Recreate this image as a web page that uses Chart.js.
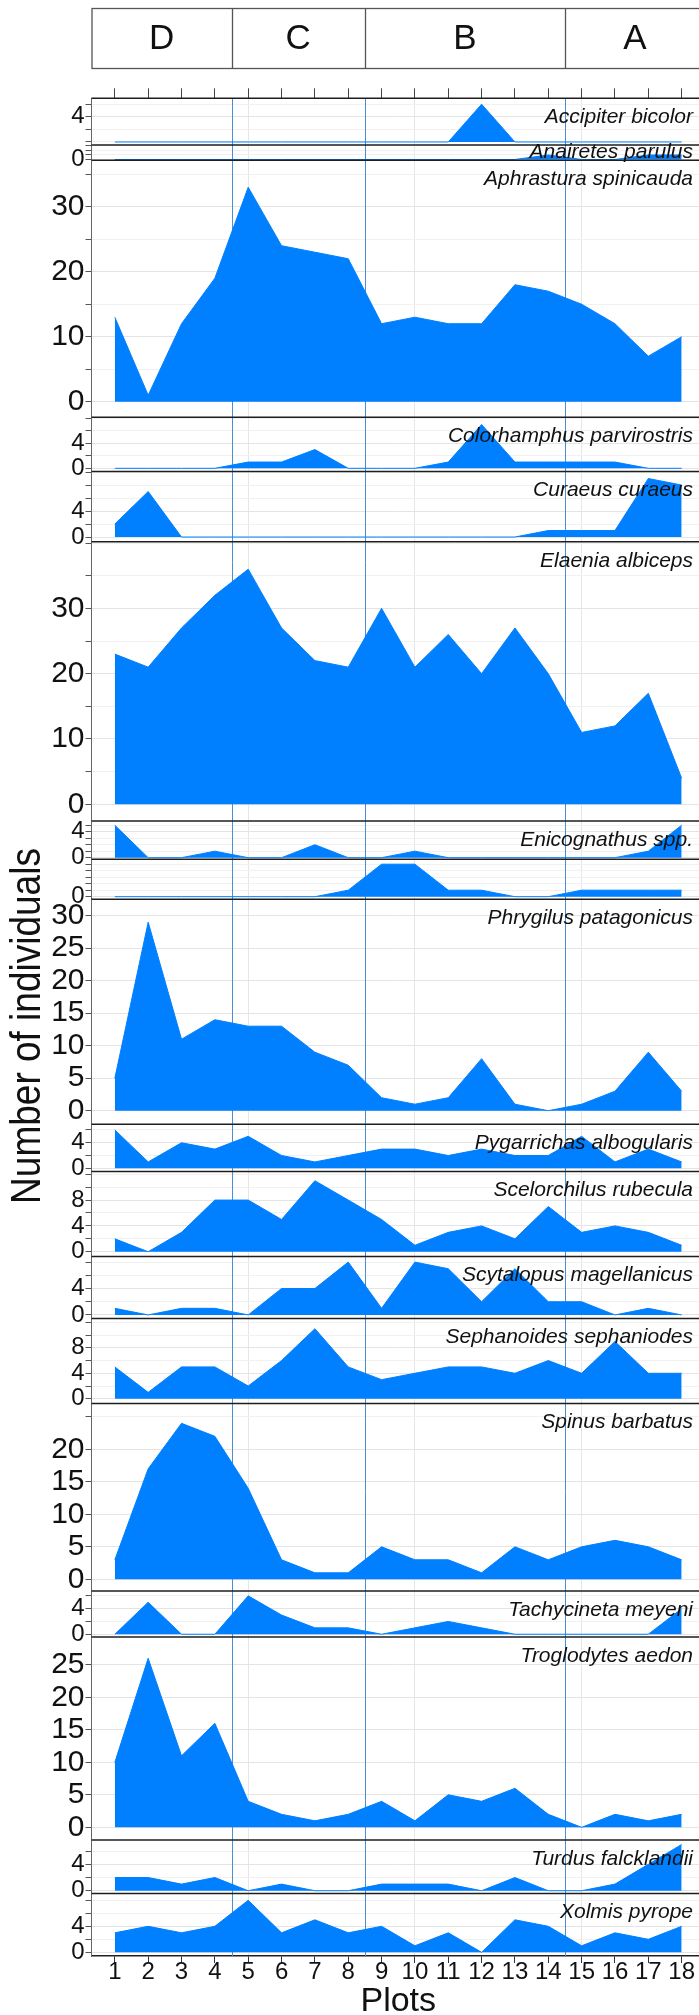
<!DOCTYPE html>
<html>
<head>
<meta charset="utf-8">
<title>Birds per plot</title>
<script src="https://cdn.jsdelivr.net/npm/chart.js@4.4.1/dist/chart.umd.min.js"></script>
<style>
  html, body { margin: 0; padding: 0; overflow: hidden; background: #fff; }
  #wrap { width: 712px; height: 2015px; }
</style>
</head>
<body>
<div id="wrap"><canvas id="birdChart" width="712" height="2015"></canvas></div>
<script>
const plots = [1, 2, 3, 4, 5, 6, 7, 8, 9, 10, 11, 12, 13, 14, 15, 16, 17, 18];
const zones = ['D', 'C', 'B', 'A'];
const zoneBreaks = [4.5, 8.5, 14.5];
const xGridBreaks = [5, 10, 15];

// one panel per species, top to bottom (the 8th panel has no name in the figure)
const species = [
  'Accipiter bicolor', 'Anairetes parulus', 'Aphrastura spinicauda',
  'Colorhamphus parvirostris', 'Curaeus curaeus', 'Elaenia albiceps',
  'Enicognathus spp.', '', 'Phrygilus patagonicus',
  'Pygarrichas albogularis', 'Scelorchilus rubecula', 'Scytalopus magellanicus',
  'Sephanoides sephaniodes', 'Spinus barbatus', 'Tachycineta meyeni',
  'Troglodytes aedon', 'Turdus falcklandii', 'Xolmis pyrope'
];

const accipiterBicolor       = [0, 0, 0, 0, 0, 0, 0, 0, 0, 0, 0, 6, 0, 0, 0, 0, 0, 0];
const anairetesParulus       = [0, 0, 0, 0, 0, 0, 0, 0, 0, 0, 0, 0, 0, 1, 0, 0, 1, 1];
const aphrasturaSpinicauda   = [13, 1, 12, 19, 33, 24, 23, 22, 12, 13, 12, 12, 18, 17, 15, 12, 7, 10];
const colorhamphusParvirostris = [0, 0, 0, 0, 1, 1, 3, 0, 0, 0, 1, 7, 1, 1, 1, 1, 0, 0];
const curaeusCuraeus         = [2, 7, 0, 0, 0, 0, 0, 0, 0, 0, 0, 0, 0, 1, 1, 1, 9, 8];
const elaeniaAlbiceps        = [23, 21, 27, 32, 36, 27, 22, 21, 30, 21, 26, 20, 27, 20, 11, 12, 17, 4];
const enicognathusSpp        = [5, 0, 0, 1, 0, 0, 2, 0, 0, 1, 0, 0, 0, 0, 0, 0, 1, 5];
const unnamedSpecies         = [0, 0, 0, 0, 0, 0, 0, 1, 5, 5, 1, 1, 0, 0, 1, 1, 1, 1];
const phrygilusPatagonicus   = [5, 29, 11, 14, 13, 13, 9, 7, 2, 1, 2, 8, 1, 0, 1, 3, 9, 3];
const pygarrichasAlbogularis = [6, 1, 4, 3, 5, 2, 1, 2, 3, 3, 2, 3, 2, 2, 5, 1, 3, 1];
const scelorchilusRubecula   = [2, 0, 3, 8, 8, 5, 11, 8, 5, 1, 3, 4, 2, 7, 3, 4, 3, 1];
const scytalopusMagellanicus = [1, 0, 1, 1, 0, 4, 4, 8, 1, 8, 7, 2, 7, 2, 2, 0, 1, 0];
const sephanoidesSephaniodes = [5, 1, 5, 5, 2, 6, 11, 5, 3, 4, 5, 5, 4, 6, 4, 9, 4, 4];
const spinusBarbatus         = [3, 17, 24, 22, 14, 3, 1, 1, 5, 3, 3, 1, 5, 3, 5, 6, 5, 3];
const tachycinetaMeyeni      = [0, 5, 0, 0, 6, 3, 1, 1, 0, 1, 2, 1, 0, 0, 0, 0, 0, 4];
const troglodytesAedon       = [10, 26, 11, 16, 4, 2, 1, 2, 4, 1, 5, 4, 6, 2, 0, 2, 1, 2];
const turdusFalcklandii      = [2, 2, 1, 2, 0, 1, 0, 0, 1, 1, 1, 0, 2, 0, 0, 1, 4, 7];
const xolmisPyrope           = [3, 4, 3, 4, 8, 3, 5, 3, 4, 1, 3, 0, 5, 4, 1, 3, 2, 4];

const speciesCounts = [
  accipiterBicolor, anairetesParulus, aphrasturaSpinicauda, colorhamphusParvirostris,
  curaeusCuraeus, elaeniaAlbiceps, enicognathusSpp, unnamedSpecies, phrygilusPatagonicus,
  pygarrichasAlbogularis, scelorchilusRubecula, scytalopusMagellanicus, sephanoidesSephaniodes,
  spinusBarbatus, tachycinetaMeyeni, troglodytesAedon, turdusFalcklandii, xolmisPyrope
];

// y tick marks and the ones that carry a label, per panel
const yTicks = [
  [0, 2, 4, 6], [0, 1, 2, 3], [0, 5, 10, 15, 20, 25, 30, 35], [0, 2, 4, 6, 8],
  [0, 2, 4, 6, 8, 10], [0, 5, 10, 15, 20, 25, 30, 35, 40], [0, 1, 2, 3, 4, 5], [0, 1, 2, 3, 4, 5],
  [0, 5, 10, 15, 20, 25, 30], [0, 2, 4, 6], [0, 2, 4, 6, 8, 10, 12], [0, 2, 4, 6, 8],
  [0, 2, 4, 6, 8, 10, 12], [0, 5, 10, 15, 20, 25], [0, 2, 4, 6], [0, 5, 10, 15, 20, 25],
  [0, 2, 4, 6], [0, 2, 4, 6, 8]
];
const yTickLabels = [
  [4], [0], [0, 10, 20, 30], [0, 4],
  [0, 4], [0, 10, 20, 30], [0, 4], [0],
  [0, 5, 10, 15, 20, 25, 30], [0, 4], [0, 4, 8], [0, 4],
  [0, 4, 8], [0, 5, 10, 15, 20], [0, 4], [0, 5, 10, 15, 20, 25],
  [0, 4], [0, 4]
];

// axis range and pixel height of every panel (free y scales, free space)
const panelAxes = [
  { min: -0.48, max: 6.94, h: 46.7 },
  { min: -0.18, max: 3.22, h: 15.3 },
  { min: -2.4, max: 37.14, h: 257 },
  { min: -0.51, max: 8.16, h: 54.2 },
  { min: -0.72, max: 10.08, h: 70.2 },
  { min: -2.56, max: 40.21, h: 279.3 },
  { min: -0.25, max: 5.65, h: 38.3 },
  { min: -0.4, max: 5.75, h: 40 },
  { min: -2.09, max: 32.52, h: 225 },
  { min: -0.5, max: 6.88, h: 47.2 },
  { min: -0.74, max: 12.43, h: 85 },
  { min: -0.54, max: 8.85, h: 62 },
  { min: -0.75, max: 12.61, h: 85 },
  { min: -1.8, max: 27.05, h: 187.5 },
  { min: -0.43, max: 6.76, h: 46 },
  { min: -1.95, max: 29.28, h: 203 },
  { min: -0.42, max: 7.68, h: 53.5 },
  { min: -0.57, max: 9.05, h: 62.5 }
];

const areaBlue = 'rgb(0, 127, 255)';
const zoneBlue = '#4a8fd3';
const fontFamily = "'Liberation Sans', Arial, sans-serif";

const datasets = species.map((name, i) => ({
  label: name,
  data: plots.map((p, j) => ({ x: p, y: speciesCounts[i][j] })),
  xAxisID: 'x',
  yAxisID: 'y' + i,
  fill: 'origin',
  backgroundColor: areaBlue,
  borderColor: areaBlue,
  borderWidth: 1,
  pointRadius: 0,
  tension: 0
}));

const scales = {
  x: {
    type: 'linear',
    position: 'bottom',
    min: 0.3,
    max: 18.7,
    afterBuildTicks: (s) => { s.ticks = plots.map(v => ({ value: v })); },
    afterFit: (s) => { s.height = 59; },
    border: { display: true, color: '#222', width: 1.5 },
    grid: {
      color: (c) => xGridBreaks.includes(c.tick.value) ? '#e6e6e6' : 'rgba(0,0,0,0)',
      tickColor: '#333',
      tickLength: 7
    },
    ticks: {
      autoSkip: false,
      maxRotation: 0,
      padding: 0,
      color: '#111',
      font: { family: fontFamily, size: 24, lineHeight: 0.8 }
    },
    title: {
      display: true,
      text: 'Plots',
      color: '#111',
      padding: 0,
      font: { family: fontFamily, size: 34, lineHeight: 0.8 }
    }
  },
  xTop: {
    type: 'linear',
    position: 'top',
    min: 0.3,
    max: 18.7,
    afterBuildTicks: (s) => { s.ticks = plots.map(v => ({ value: v })); },
    afterFit: (s) => { s.height = 98.3; },
    border: { display: false },
    grid: { drawOnChartArea: false, tickColor: '#444', tickLength: 10 },
    ticks: { display: false }
  }
};

species.forEach((name, i) => {
  const p = panelAxes[i];
  const labelled = yTickLabels[i];
  scales['y' + i] = {
    type: 'linear',
    position: 'left',
    stack: 'panels',
    stackWeight: p.h,
    weight: species.length - i,
    min: p.min,
    max: p.max,
    afterBuildTicks: (s) => { s.ticks = yTicks[i].map(v => ({ value: v })); },
    afterFit: (s) => { s.width = 91.5; },
    border: { display: true, color: '#666', width: 1 },
    grid: {
      color: (c) => labelled.includes(c.tick.value) ? '#e4e4e4' : '#f1f1f1',
      tickColor: '#555',
      tickLength: 6
    },
    ticks: {
      autoSkip: false,
      padding: 1,
      color: '#111',
      font: { family: fontFamily, size: p.h > 150 ? 30 : 24 },
      callback: (v) => labelled.includes(v) ? String(v) : ''
    }
  };
});

const panelDecor = {
  id: 'panelDecor',
  beforeDatasetsDraw(chart) {
    const { ctx, chartArea, scales } = chart;
    ctx.save();
    ctx.strokeStyle = zoneBlue;
    ctx.lineWidth = 1;
    zoneBreaks.forEach(b => {
      const px = Math.round(scales.x.getPixelForValue(b)) + 0.5;
      ctx.beginPath();
      ctx.moveTo(px, chartArea.top);
      ctx.lineTo(px, chartArea.bottom);
      ctx.stroke();
    });
    ctx.restore();
  },
  afterDatasetsDraw(chart) {
    const { ctx, chartArea } = chart;
    ctx.save();
    // panel separators
    ctx.strokeStyle = '#1e1e1e';
    ctx.lineWidth = 1.5;
    species.forEach((name, i) => {
      const s = chart.scales['y' + i];
      ctx.beginPath();
      ctx.moveTo(chartArea.left, s.top);
      ctx.lineTo(chartArea.right, s.top);
      ctx.stroke();
    });
    // species names
    ctx.fillStyle = '#111';
    ctx.font = 'italic 21px ' + fontFamily;
    ctx.textAlign = 'right';
    ctx.textBaseline = 'middle';
    species.forEach((name, i) => {
      if (!name) return;
      const s = chart.scales['y' + i];
      const y = s.top + Math.min(19, (s.bottom - s.top) / 2);
      ctx.fillText(name, chartArea.right - 12, y);
    });
    ctx.restore();
  },
  afterDraw(chart) {
    const { ctx, chartArea, scales } = chart;
    const x = scales.x;
    ctx.save();
    // zone strip on top
    const top = 8.5, bottom = 68.5;
    ctx.fillStyle = '#fff';
    ctx.fillRect(chartArea.left, top, chartArea.right - chartArea.left, bottom - top);
    ctx.strokeStyle = '#555';
    ctx.lineWidth = 1.3;
    ctx.strokeRect(chartArea.left + 0.5, top, chartArea.right - chartArea.left, bottom - top);
    const edges = [x.min, ...zoneBreaks, x.max];
    zoneBreaks.forEach(b => {
      const px = Math.round(x.getPixelForValue(b)) + 0.5;
      ctx.beginPath();
      ctx.moveTo(px, top);
      ctx.lineTo(px, bottom);
      ctx.stroke();
    });
    ctx.fillStyle = '#111';
    ctx.font = '35px ' + fontFamily;
    ctx.textAlign = 'center';
    ctx.textBaseline = 'middle';
    zones.forEach((z, i) => {
      const cx = x.getPixelForValue((edges[i] + edges[i + 1]) / 2);
      ctx.fillText(z, cx, 39);
    });
    // y axis title
    ctx.translate(40, 1026);
    ctx.rotate(-Math.PI / 2);
    ctx.scale(1, 1.17);
    ctx.font = '37px ' + fontFamily;
    ctx.textBaseline = 'alphabetic';
    ctx.fillText('Number of individuals', 0, 0);
    ctx.restore();
  }
};

const birdChart = new Chart(document.getElementById('birdChart').getContext('2d'), {
  type: 'line',
  data: { datasets },
  options: {
    responsive: false,
    maintainAspectRatio: false,
    animation: false,
    events: [],
    layout: { padding: { left: 0, right: 7, top: 0, bottom: 0 } },
    plugins: {
      legend: { display: false },
      tooltip: { enabled: false }
    },
    scales
  },
  plugins: [panelDecor]
});
</script>
</body>
</html>
